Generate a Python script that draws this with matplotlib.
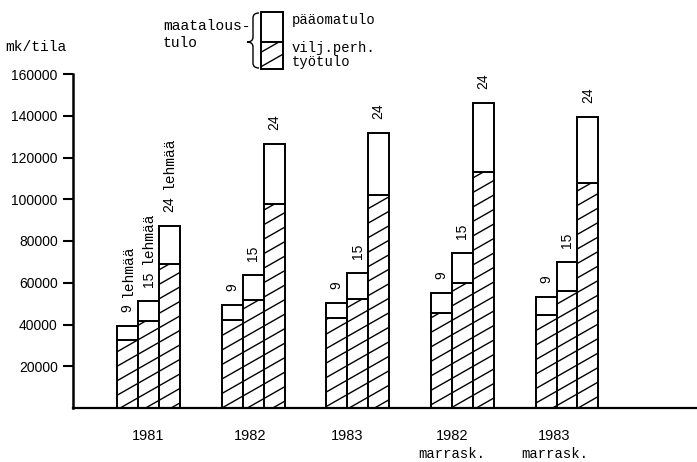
import numpy as np
import matplotlib
matplotlib.use("Agg")
import matplotlib.pyplot as plt
from matplotlib.lines import Line2D
from matplotlib.patches import Rectangle, PathPatch
from matplotlib.path import Path
from matplotlib.transforms import IdentityTransform, blended_transform_factory

# data
years = ['1981', '1982', '1983', '1982', '1983']
year_notes = ['', '', '', 'marrask.', 'marrask.']
herd_sizes = ['9', '15', '24']
# viljelijäperheen työtulo (hatched part), per herd size 9 / 15 / 24
tyotulo = [
    [32600, 41800, 69000],
    [42200, 51700, 97700],
    [43100, 52200, 102000],
    [45500, 60000, 113200],
    [44500, 56000, 107900],
]
# maataloustulo = työtulo + pääomatulo (bar top)
maataloustulo = [
    [39300, 51300, 87200],
    [49300, 63700, 126300],
    [50300, 64800, 131700],
    [55200, 74400, 146100],
    [53200, 69900, 139500],
]
yticks = [20000, 40000, 60000, 80000, 100000, 120000, 140000, 160000]

W, H = 697, 462
SANS = ['Liberation Sans', 'DejaVu Sans']
MONO = ['Liberation Mono', 'DejaVu Sans Mono']


def px(x, y):
    # pixel (from top-left) -> figure fraction
    return x / W, 1 - y / H


def add_hatch(container, patch, slope=0.57, spacing=14.5, lw=1.0):
    bb = patch.get_window_extent()
    x0, x1, y0, y1 = bb.x0, bb.x1, bb.y0, bb.y1
    c_lo = np.floor((y0 - slope * x1) / spacing) * spacing
    for c in np.arange(c_lo, y1 - slope * x0 + spacing, spacing):
        ln = Line2D([x0, x1], [slope * x0 + c, slope * x1 + c], color='black',
                    lw=lw, transform=IdentityTransform())
        container.add_artist(ln)
        # clip after adding, add_artist would reset it to the axes patch
        ln.set_clip_path(patch)


fig = plt.figure(figsize=(W / 100, H / 100), dpi=100)
ax = fig.add_axes([73 / W, 54 / H, 624 / W, 334 / H])
# limits first, the hatching is laid out in pixels
ax.set_xlim(-0.722, 5.243)
ax.set_ylim(0, 160000)
ax.set_autoscale_on(False)

n = len(years)
width = 0.2
x = np.arange(n)
work = np.array(tyotulo)
total = np.array(maataloustulo)

for i in range(3):
    pos = x + (i - 1) * width
    hatched = ax.bar(pos, work[:, i], width, color='white', edgecolor='black', lw=1.4)
    ax.bar(pos, total[:, i] - work[:, i], width, bottom=work[:, i], color='white',
           edgecolor='black', lw=1.4)
    for p in hatched.patches:
        add_hatch(ax, p)
    for g in range(n):
        ax.annotate(herd_sizes[i], (pos[g], total[g, i]), xytext=(0, 10),
                    textcoords='offset points', rotation=90, ha='center', va='bottom',
                    fontsize=10, family=SANS)
        if g == 0:
            ax.annotate('lehmää', (pos[g], total[g, i]),
                        xytext=(0, 10 + 6 * len(herd_sizes[i]) + 4),
                        textcoords='offset points', rotation=90, ha='center', va='bottom',
                        fontsize=10.5, family=MONO)

ax.set_yticks(yticks)
ax.set_yticklabels([str(v) for v in yticks], family=SANS, fontsize=10)
ax.tick_params(axis='y', direction='out', length=7, width=1.5, pad=4)
ax.set_xticks([])
for s in ['top', 'right']:
    ax.spines[s].set_visible(False)
ax.spines['left'].set_linewidth(1.8)
ax.spines['bottom'].set_linewidth(1.6)

# year labels under the groups
shift = [0.0, -0.03, -0.1, -0.1, -0.12]
tr = blended_transform_factory(ax.transData, ax.transAxes)
for g in range(n):
    ax.text(x[g] + shift[g], -0.085, years[g], transform=tr, ha='center', va='center',
            fontsize=10.5, family=SANS)
    if year_notes[g]:
        ax.text(x[g] + shift[g], -0.138, year_notes[g], transform=tr, ha='center',
                va='center', fontsize=10, family=MONO)

fig.text(*px(5, 47), 'mk/tila', ha='left', va='center', fontsize=10.5, family=MONO)

# legend drawn into the figure
lx, lw_ = 261, 22
top_box = Rectangle(px(lx, 42), lw_ / W, 30 / H, transform=fig.transFigure,
                    facecolor='white', edgecolor='black', lw=1.4)
low_box = Rectangle(px(lx, 69), lw_ / W, 27 / H, transform=fig.transFigure,
                    facecolor='white', edgecolor='black', lw=1.4)
fig.add_artist(top_box)
fig.add_artist(low_box)
add_hatch(fig, low_box)

# curly brace
bx, bt, bm, bb_ = 253, 13, 42, 68
brace_pts = [(bx + 6, bt), (bx, bt), (bx, bt + 5), (bx, bm - 5),
             (bx, bm), (bx - 6, bm), (bx - 6, bm),
             (bx, bm), (bx, bm + 5), (bx, bb_ - 5),
             (bx, bb_), (bx + 6, bb_)]
brace_codes = [Path.MOVETO, Path.CURVE3, Path.CURVE3, Path.LINETO,
               Path.CURVE3, Path.CURVE3, Path.MOVETO,
               Path.CURVE3, Path.CURVE3, Path.LINETO,
               Path.CURVE3, Path.CURVE3]
brace = PathPatch(Path([px(*p) for p in brace_pts], brace_codes), transform=fig.transFigure,
                  facecolor='none', edgecolor='black', lw=1.0)
fig.add_artist(brace)

fig.text(*px(163, 26), 'maatalous-', ha='left', va='center', fontsize=10.5, family=MONO)
fig.text(*px(163, 43), 'tulo', ha='left', va='center', fontsize=10.5, family=MONO)
fig.text(*px(292, 20), 'pääomatulo', ha='left', va='center', fontsize=10, family=MONO)
fig.text(*px(292, 48), 'vilj.perh.', ha='left', va='center', fontsize=10, family=MONO)
fig.text(*px(292, 62), 'työtulo', ha='left', va='center', fontsize=10, family=MONO)

fig.savefig('out.png', dpi=100)
